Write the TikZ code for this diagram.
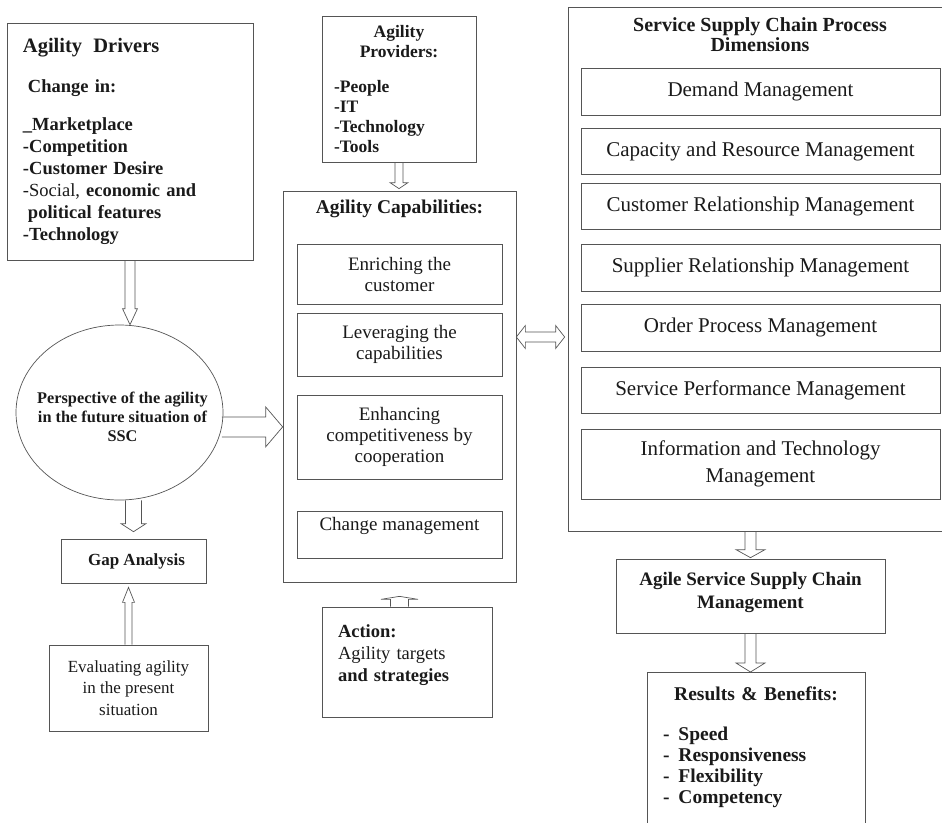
\documentclass[tikz,border=0pt]{standalone}
\usepackage{fontspec}
\setmainfont{Liberation Serif}
\usetikzlibrary{calc,positioning,shapes.geometric}
\definecolor{boxline}{HTML}{555555}
\definecolor{inktext}{HTML}{1A1A1A}

% hollow block arrow: from, to, shaft half width, head half width, head length
\newcommand{\blockarrow}[5]{%
  \draw[arrowline] let \p1=#1, \p2=#2,
      \n1={veclen(\x2-\x1,\y2-\y1)}, \n2={(\x2-\x1)/\n1}, \n3={(\y2-\y1)/\n1},
      \p3=({\x2-#5*(\n2)},{\y2-#5*(\n3)})
    in ({\x1-#3*(\n3)},{\y1+#3*(\n2)}) -- ({\x3-#3*(\n3)},{\y3+#3*(\n2)})
    -- ({\x3-#4*(\n3)},{\y3+#4*(\n2)}) -- (\p2)
    -- ({\x3+#4*(\n3)},{\y3-#4*(\n2)}) -- ({\x3+#3*(\n3)},{\y3-#3*(\n2)})
    -- ({\x1+#3*(\n3)},{\y1-#3*(\n2)});}
% same with a head at both ends
\newcommand{\twinarrow}[5]{%
  \draw[arrowline] let \p1=#1, \p2=#2,
      \n1={veclen(\x2-\x1,\y2-\y1)}, \n2={(\x2-\x1)/\n1}, \n3={(\y2-\y1)/\n1},
      \p3=({\x1+#5*(\n2)},{\y1+#5*(\n3)}), \p4=({\x2-#5*(\n2)},{\y2-#5*(\n3)})
    in (\p1) -- ({\x3-#4*(\n3)},{\y3+#4*(\n2)}) -- ({\x3-#3*(\n3)},{\y3+#3*(\n2)})
    -- ({\x4-#3*(\n3)},{\y4+#3*(\n2)}) -- ({\x4-#4*(\n3)},{\y4+#4*(\n2)}) -- (\p2)
    -- ({\x4+#4*(\n3)},{\y4-#4*(\n2)}) -- ({\x4+#3*(\n3)},{\y4-#3*(\n2)})
    -- ({\x3+#3*(\n3)},{\y3-#3*(\n2)}) -- ({\x3+#4*(\n3)},{\y3-#4*(\n2)}) -- cycle;}

\begin{document}
\begin{tikzpicture}[x=1pt,y=-1pt,
    frame/.style={draw=boxline,line width=0.7pt,inner sep=0pt,text=inktext},
    capbox/.style={frame,minimum width=205pt,minimum height=#1,align=center,font=\fontsize{19}{21}\selectfont},
    dimbox/.style={frame,minimum width=359pt,minimum height=#1,align=center,font=\fontsize{21}{27}\selectfont},
    arrowline/.style={draw=boxline,line width=0.7pt,line join=miter}]
    \useasboundingbox (0,0) rectangle (942,822);
    \clip (0,0) rectangle (942,822);
    % left column
    \node[frame,minimum width=246pt,minimum height=237pt,text width=214pt,align=left,font=\fontsize{18.5}{22}\selectfont] (drivers) at (130,141.5)
      {{\fontsize{20.5}{22}\selectfont\textbf{Agility\hspace{5pt} Drivers}}\\[18pt]
       \hspace*{5pt}\textbf{Change in:}\\[16pt]
       \textbf{\_Marketplace}\\
       \textbf{-Competition}\\
       \textbf{-Customer Desire}\\
       -Social, \textbf{economic and}\\
       \hspace*{5pt}\textbf{political features}\\
       \textbf{-Technology}};
    \node[ellipse,draw=boxline,line width=0.7pt,minimum width=207pt,minimum height=175pt,inner sep=0pt] (persp) at (119.5,412.5) {};
    \node[align=center,text=inktext,font=\fontsize{16.3}{19}\selectfont\bfseries] (persptext) at ($(persp.center)+(3,4.5)$)
      {Perspective of the agility\\in the future situation of\\SSC};
    \node[frame,minimum width=145pt,minimum height=44pt,font=\fontsize{17}{20}\selectfont\bfseries] (gap) at (133.5,561) {\hspace{6pt}Gap Analysis};
    \node[frame,minimum width=159pt,minimum height=86pt,align=center,font=\fontsize{17}{21.5}\selectfont] (eval) at (128.5,688)
      {Evaluating agility\\in the present\\situation};
    % middle column
    \node[frame,minimum width=154pt,minimum height=146pt,text width=130pt,align=left,font=\fontsize{17.5}{20}\selectfont\bfseries] (prov) at (399,89)
      {\makebox[130pt]{Agility}\\\makebox[130pt]{Providers:}\\[15pt]-People\\-IT\\-Technology\\-Tools};
    \node[frame,minimum width=233pt,minimum height=391pt] (caps) at (399.5,386.5) {};
    \node[text=inktext,font=\fontsize{19.5}{22}\selectfont\bfseries] (capstitle) at (399.5,209) {Agility Capabilities:};
    \node[capbox=60pt] (enrich) at (399.5,274) {Enriching the\\customer};
    \node[capbox=63pt] (leverage) at (399.5,344.5) {Leveraging the\\capabilities};
    \node[capbox=84pt] (enhance) at (399.5,437) {Enhancing\\competitiveness by\\cooperation};
    \node[capbox=47pt] (changemgmt) at (399.5,534.5) {Change management\\\mbox{}};
    \node[frame,minimum width=170pt,minimum height=110pt,text width=138pt,align=left,font=\fontsize{18.5}{22}\selectfont] (action) at (407,662)
      {\textbf{Action:}\\Agility targets\\\textbf{and strategies}\\[-4pt]\mbox{}};
    % right column
    \node[frame,minimum width=378pt,minimum height=524pt] (ssc) at (757,269) {};
    \node[align=center,text=inktext,font=\fontsize{20}{20}\selectfont\bfseries] (ssctitle) at (760,35) {Service Supply Chain Process\\Dimensions};
    \node[dimbox=47pt] (demand) at (760.5,91.5) {Demand Management};
    \node[dimbox=46pt] (capacity) at (760.5,151) {Capacity and Resource Management};
    \node[dimbox=46pt] (crm) at (760.5,206) {Customer Relationship Management};
    \node[dimbox=47pt] (srm) at (760.5,267.5) {Supplier Relationship Management};
    \node[dimbox=47pt] (order) at (760.5,327.5) {Order Process Management};
    \node[dimbox=46pt] (perf) at (760.5,390) {Service Performance Management};
    \node[dimbox=70pt] (itm) at (760.5,464) {Information and Technology\\Management};
    \node[frame,minimum width=269pt,minimum height=74pt,align=center,font=\fontsize{19}{23}\selectfont\bfseries] (agile) at (750.5,596)
      {Agile Service Supply Chain\\Management\\[-12pt]\mbox{}};
    \node[frame,anchor=north,minimum width=218pt,text width=186pt,inner ysep=14pt,align=left,font=\fontsize{19.5}{21}\selectfont\bfseries] (results) at (756,672)
      {\makebox[186pt]{Results \& Benefits:}\\[19pt]-\hspace{9pt}Speed\\-\hspace{9pt}Responsiveness\\-\hspace{9pt}Flexibility\\-\hspace{9pt}Competency\\[40pt]\mbox{}};
    % arrows
    \blockarrow{(drivers.south)}{(persp.north -| drivers.south)}{5pt}{7.5pt}{16pt}
    \blockarrow{(persp.-8)}{(caps.west |- persp.-8)}{10pt}{20pt}{17pt}
    \blockarrow{(persp.south -| gap.north)}{($(gap.north)+(0,-7)$)}{8pt}{12.5pt}{8pt}
    \blockarrow{(eval.north)}{($(gap.south -| eval.north)+(0,4)$)}{3.5pt}{6pt}{15pt}
    \blockarrow{(prov.south)}{($(caps.north -| prov.south)+(0,-2)$)}{4pt}{9pt}{6pt}
    \blockarrow{(action.north -| caps.south)}{($(caps.south)+(0,14)$)}{9pt}{18.5pt}{3pt}
    \coordinate (link) at ($(caps.east)+(0,-49.5)$);
    \twinarrow{(link)}{($(ssc.west |- link)+(-3,0)$)}{5pt}{11.5pt}{9pt}
    \blockarrow{(agile.north |- ssc.south)}{($(agile.north)+(0,-1)$)}{5.5pt}{14.5pt}{8pt}
    \blockarrow{(agile.south)}{(results.north -| agile.south)}{5.5pt}{14.5pt}{9pt}
  \end{tikzpicture}
\end{document}
